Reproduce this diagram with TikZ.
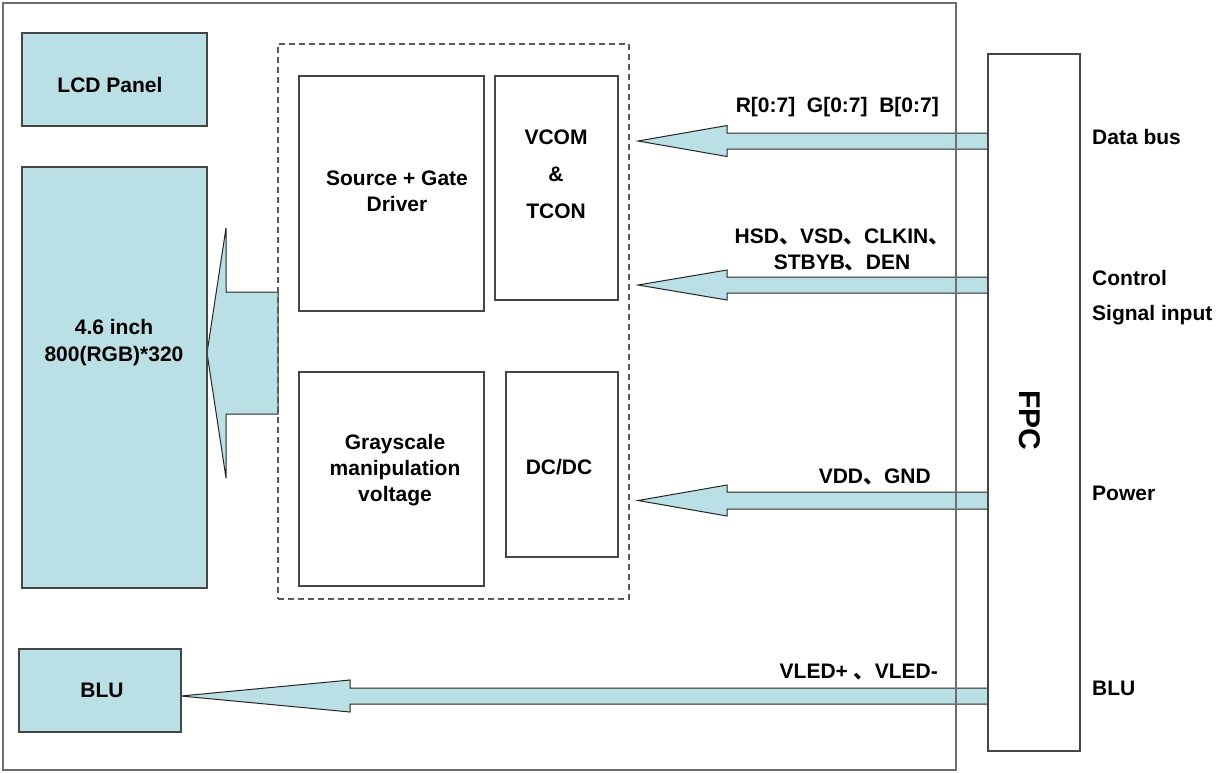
\documentclass[tikz,border=0pt]{standalone}
\usepackage{fontspec}
\setmainfont{Liberation Sans}
\newfontfamily\cjk{Noto Sans CJK SC}
\usetikzlibrary{calc,backgrounds}
\definecolor{lblue}{RGB}{186,223,228}
\definecolor{edge}{RGB}{70,70,70}
\definecolor{framegray}{RGB}{110,110,110}
\definecolor{dashgray}{RGB}{90,90,90}
\newcommand\cm{{\cjk 、}}
\newcommand\fatL[5]{%
  \path[fatarrow] let \p1=(#1), \p2=(#2) in
   (\x1,\y2+#3) -- (\x2+#5,\y2+#3) -- (\x2+#5,\y2+#4) -- (\x2,\y2)
   -- (\x2+#5,\y2-#4) -- (\x2+#5,\y2-#3) -- (\x1,\y2-#3) -- cycle;}
\begin{document}
\begin{tikzpicture}[x=1pt,y=-1pt,
  txt/.style={font=\fontsize{21}{26}\selectfont\bfseries, inner sep=0pt, align=center},
  bluebox/.style={draw=edge, line width=1.5pt, fill=lblue, inner sep=0pt, outer sep=0pt},
  whitebox/.style={draw=edge, line width=1.8pt, fill=white, inner sep=0pt, outer sep=0pt},
  dashbox/.style={draw=dashgray, line width=1.5pt, dash pattern=on 6pt off 4pt, inner sep=0pt, outer sep=0pt},
  framebox/.style={draw=framegray, line width=1.5pt, inner sep=0pt, outer sep=0pt},
  fatarrow/.style={fill=lblue, draw=black!85, line width=1pt, line join=miter},
]
\useasboundingbox (0,0) rectangle (1217,772);

% left blue boxes
\node[bluebox, minimum width=185pt, minimum height=93pt] (lcd) at (114.5,79.5) {};
\node[txt] (lcdtxt) at (110,85) {LCD Panel};
\node[bluebox, minimum width=185pt, minimum height=421pt] (panel) at (114.5,377.5) {};
\node[txt, font=\fontsize{21}{27}\selectfont\bfseries] (paneltxt) at (114,343) {4.6 inch\\800(RGB)*320};
\node[bluebox, minimum width=162pt, minimum height=83pt] (blu) at (100,690.5) {};
\node[txt] (blutxt) at (102,690) {BLU};

% driver group
\node[dashbox, minimum width=351pt, minimum height=555pt] (drv) at (453.5,321.5) {};
\node[whitebox, minimum width=185pt, minimum height=235pt] (src) at (391.5,193.5) {};
\node[txt] (srctxt) at (397,191) {Source + Gate\\Driver};
\node[whitebox, minimum width=123pt, minimum height=224pt] (vcom) at (556.5,188) {};
\node[txt, font=\fontsize{21}{37}\selectfont\bfseries] (vcomtxt) at (556,174) {VCOM\\\&\\TCON};
\node[whitebox, minimum width=185pt, minimum height=214pt] (gray) at (391.5,479) {};
\node[txt] (graytxt) at (395,470) {Grayscale\\manipulation\\voltage};
\node[whitebox, minimum width=112pt, minimum height=185pt] (dcdc) at (562,464.5) {};
\node[txt] (dcdctxt) at (559,467) {DC/DC};

% FPC
\node[whitebox, line width=1.5pt, minimum width=92pt, minimum height=697pt] (fpc) at (1034,402.5) {};
\node[txt, font=\fontsize{30}{30}\selectfont\bfseries, rotate=-90] (fpctxt) at (1030,420) {FPC};

% arrow tips
\coordinate (tData) at (638,141);
\coordinate (tCtrl) at (638,285);
\coordinate (tPow) at (638,500.5);
\coordinate (tBlu) at (181,696);
\coordinate (tPanel) at (207,353);

\begin{pgfonlayer}{background}
  \fill[white] (0,0) rectangle (1217,772);
  \fatL{fpc.west}{tData}{8pt}{15.5pt}{89pt}
  \fatL{fpc.west}{tCtrl}{8pt}{15pt}{89pt}
  \fatL{fpc.west}{tPow}{8.5pt}{15.5pt}{89pt}
  \fatL{fpc.west}{tBlu}{8pt}{16pt}{169pt}
  \fatL{drv.west}{tPanel}{61pt}{125pt}{19pt}
\end{pgfonlayer}

% outer frame
\node[framebox, minimum width=953pt, minimum height=767pt] (frame) at (479.5,386.5) {};

% signal labels
\node[txt, anchor=east] (ldata) at (939,107) {R[0:7]\ \ G[0:7]\ \ B[0:7]};
\node[txt] (lctrl) at (842,250) {HSD\cm VSD\cm CLKIN\cm\\STBYB\cm DEN};
\node[txt, anchor=east] (lpow) at (931,477) {VDD\cm GND};
\node[txt, anchor=east] (lblu) at (938,672) {VLED+ \cm VLED-};

% right side labels
\node[txt, anchor=west] (rdata) at (1092,137) {Data bus};
\node[txt, anchor=west, align=left, font=\fontsize{21}{35}\selectfont\bfseries] (rctrl) at (1092,298) {Control\\Signal input};
\node[txt, anchor=west] (rpow) at (1092,493) {Power};
\node[txt, anchor=west] (rblu) at (1092,688) {BLU};
\end{tikzpicture}
\end{document}
